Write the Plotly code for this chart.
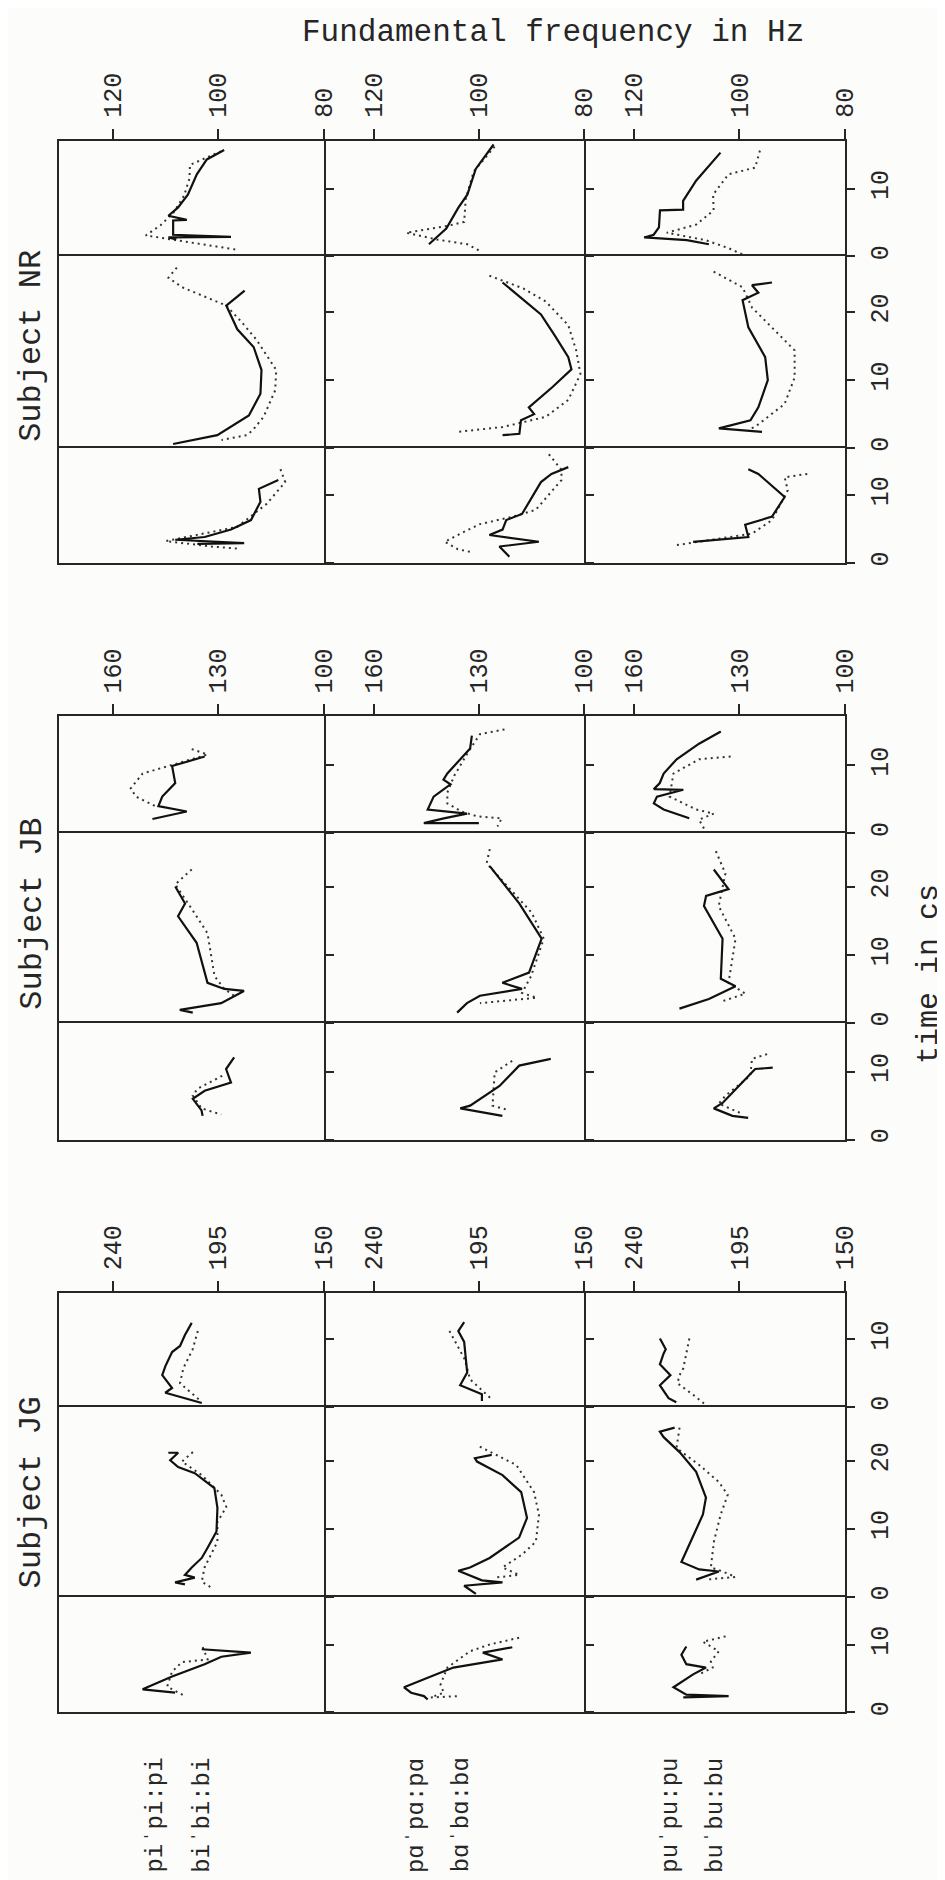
import plotly.graph_objects as go

# ---------------- data: (time in cs, F0 in Hz) ----------------
# p = voiceless context (solid), b = voiced context (dotted); syllable 1..3
NR_pi_3_p = [(15.7,98.9),(14.3,102.2),(12.1,104.1),(9.1,105.8),(7.2,107.7),(6.0,109.5),(5.4,106.0),(5.3,108.6),(3.2,108.6),(2.9,97.6),(2.8,109.5),(2.5,108.0)]
NR_pi_3_b = [(15.5,99.5),(13.5,105.4),(11.5,105.5),(9.0,106.5),(6.5,108.5),(4.6,111.0),(3.1,113.8),(2.2,106.0),(1.6,101.0),(1.0,96.5)]
NR_pi_2_p = [(23.2,95.0),(21.0,98.5),(17.5,96.4),(14.9,93.3),(11.5,91.8),(8.0,92.0),(4.8,94.2),(3.4,97.0),(1.9,100.2),(0.6,108.6)]
NR_pi_2_b = [(26.6,107.9),(25.1,109.5),(23.7,106.9),(21.0,98.5),(18.5,95.5),(15.9,92.7),(11.5,89.0),(8.5,89.2),(4.6,91.4),(2.6,93.5),(1.9,94.6),(1.2,99.4)]
NR_pi_1_p = [(12.2,88.6),(10.9,92.3),(9.0,92.0),(6.3,93.8),(4.9,97.6),(3.8,102.6),(3.4,108.2),(2.9,95.1),(2.8,104.0)]
NR_pi_1_b = [(13.8,88.2),(11.9,87.3),(8.7,90.8),(5.3,96.4),(3.2,110.0),(2.4,101.3),(2.1,96.4)]

NR_pa_3_p = [(16.5,97.2),(12.9,100.6),(9.1,102.2),(7.2,103.9),(4.1,106.2),(2.5,108.5),(1.8,109.5)]
NR_pa_3_b = [(16.2,97.0),(12.5,101.0),(8.5,102.5),(5.1,102.8),(4.5,106.0),(3.5,113.8),(2.5,108.0),(1.8,102.2),(0.9,100.0)]
NR_pa_2_p = [(24.4,95.5),(21.5,91.0),(19.7,88.2),(16.5,85.5),(13.4,83.0),(11.6,82.4),(9.0,86.0),(6.0,90.5),(5.0,89.5),(4.1,92.0),(2.1,92.3),(1.9,95.5)]
NR_pa_2_b = [(25.4,98.0),(23.5,91.5),(21.6,87.3),(18.1,83.0),(14.4,81.5),(10.9,80.7),(7.1,83.0),(4.6,87.3),(3.1,95.5),(2.4,103.9)]
NR_pa_1_p = [(14.1,83.0),(13.1,86.2),(11.9,88.2),(7.2,91.8),(6.3,94.8),(4.9,95.5),(4.1,98.0),(3.1,88.6),(2.4,96.1),(0.9,94.2)]
NR_pa_1_b = [(16.0,86.7),(13.7,84.3),(12.2,84.3),(7.8,89.2),(6.8,93.6),(5.7,99.8),(4.5,103.0),(3.1,106.5),(2.0,104.0),(1.5,101.0)]

NR_pu_3_p = [(15.3,103.6),(11.2,108.2),(8.2,110.7),(6.9,110.7),(6.8,115.1),(4.3,115.3),(3.2,116.3),(2.8,118.1),(2.4,110.0),(1.8,105.8)]
NR_pu_3_b = [(15.6,96.1),(13.1,97.0),(12.1,102.1),(9.1,105.0),(6.8,104.9),(4.7,108.2),(3.5,113.8),(2.4,106.4),(1.2,102.0),(0.3,99.4)]
NR_pu_2_p = [(24.4,93.8),(24.0,97.6),(22.9,96.4),(21.8,99.4),(17.8,98.3),(13.4,95.1),(10.0,94.6),(6.0,96.4),(4.1,97.9),(2.9,103.9),(2.4,95.7)]
NR_pu_2_b = [(26.0,104.9),(24.8,102.0),(23.7,99.4),(20.7,97.6),(14.4,89.5),(10.4,89.5),(6.5,91.4),(3.5,96.4),(2.6,98.3)]
NR_pu_1_p = [(13.8,98.3),(13.1,96.4),(9.7,91.4),(6.8,93.8),(5.6,98.9),(3.8,98.3),(3.1,108.8)]
NR_pu_1_b = [(13.1,87.1),(12.6,91.4),(10.7,90.8),(6.3,93.8),(4.3,97.6),(2.6,112.0)]

JB_pi_3_p = [(11.3,133.9),(9.9,143.2),(7.4,142.3),(5.4,146.0),(4.0,147.1),(3.2,139.0),(2.1,148.8)]
JB_pi_3_b = [(12.4,137.6),(11.6,133.1),(9.9,144.3),(8.8,151.6),(6.6,155.0),(5.4,153.5),(4.0,148.0)]
JB_pi_2_p = [(20.1,142.3),(17.6,139.5),(15.7,141.5),(11.8,136.2),(5.9,133.1),(5.0,128.3),(4.7,122.7),(2.9,129.2),(1.9,141.0),(1.5,137.3)]
JB_pi_2_b = [(22.6,137.6),(20.4,142.3),(16.8,137.6),(13.2,133.1),(6.9,131.1),(5.0,128.3),(3.7,124.7)]
JB_pi_1_p = [(12.1,125.5),(10.4,127.8),(8.4,126.4),(7.2,133.9),(6.0,137.3),(4.3,134.8),(3.5,134.5)]
JB_pi_1_b = [(9.4,128.9),(7.5,135.9),(6.5,137.3),(4.6,134.8),(3.7,129.2)]

JB_pa_3_p = [(14.4,132.0),(12.5,132.5),(8.8,139.0),(7.9,140.1),(7.2,138.1),(5.4,142.9),(3.5,144.6),(2.9,133.4),(2.2,140.0),(1.5,145.7),(1.5,130.0)]
JB_pa_3_b = [(15.3,122.7),(14.6,129.7),(12.0,133.0),(8.5,137.0),(6.0,139.0),(4.4,139.0),(3.2,135.0),(2.5,130.6),(2.2,123.5),(1.0,124.7)]
JB_pa_2_p = [(23.1,126.9),(17.6,118.5),(12.4,112.1),(7.4,115.7),(5.9,123.3),(5.0,117.7),(4.0,129.7),(2.9,133.4),(1.5,136.2)]
JB_pa_2_b = [(25.6,126.9),(23.5,127.8),(16.2,114.9),(12.4,111.5),(6.9,115.1),(4.4,117.7),(3.7,113.5),(3.2,123.3),(2.9,129.7)]
JB_pa_1_p = [(11.9,109.5),(10.9,118.5),(7.9,124.1),(5.0,132.5),(4.6,135.3),(3.5,123.3)]
JB_pa_1_b = [(11.6,120.5),(9.9,125.5),(5.0,126.1),(4.3,121.3)]

JB_pu_3_p = [(15.0,135.3),(13.2,141.5),(10.9,147.9),(8.8,151.6),(7.4,152.7),(6.5,154.4),(6.4,146.0),(5.4,153.5),(4.4,154.4),(3.5,151.6),(2.2,144.3)]
JB_pu_3_b = [(11.3,132.5),(10.9,141.5),(8.8,148.8),(5.4,149.9),(3.5,142.3),(2.9,137.3),(2.0,141.5),(0.7,140.1)]
JB_pu_2_p = [(22.6,137.3),(19.7,133.1),(18.7,139.5),(17.2,140.1),(12.4,134.8),(6.5,135.3),(5.4,131.1),(3.5,138.7),(2.1,147.1)]
JB_pu_2_b = [(25.3,136.7),(22.0,134.0),(17.2,135.9),(12.4,131.1),(5.9,133.1),(4.3,128.3),(3.2,134.8)]
JB_pu_1_p = [(10.6,120.5),(10.4,125.5),(8.4,129.2),(5.4,134.8),(4.6,137.3),(3.5,132.0),(3.2,127.5)]
JB_pu_1_b = [(12.6,122.1),(11.9,126.4),(9.4,126.9),(6.5,133.9),(5.3,135.9),(3.8,129.2)]

JG_pi_3_p = [(12.4,206.4),(10.6,209.3),(9.0,211.4),(8.1,214.8),(6.0,217.7),(4.7,219.0),(2.8,214.8),(2.1,217.7),(1.3,209.3),(0.6,202.1)]
JG_pi_3_b = [(11.2,203.8),(8.5,206.0),(5.7,210.0),(3.5,211.4),(0.9,202.6)]
JG_pi_2_p = [(21.2,216.4),(21.2,212.2),(20.1,215.6),(19.1,212.2),(18.2,205.1),(16.0,196.7),(13.1,195.4),(9.6,195.8),(7.2,199.6),(5.7,202.1),(4.3,206.4),(3.2,209.3),(2.8,205.1),(2.1,213.5),(1.8,209.3)]
JG_pi_2_b = [(21.3,205.9),(19.9,210.6),(17.9,202.1),(15.0,193.7),(13.2,191.6),(11.0,195.4),(8.1,195.4),(4.3,200.9),(2.2,202.1),(1.3,197.9)]
JG_pi_1_p = [(9.3,202.1),(8.8,181.1),(8.2,193.7),(7.1,200.9),(5.3,214.8),(3.4,227.4),(2.9,213.5)]
JG_pi_1_b = [(9.6,201.7),(7.8,199.6),(7.4,210.6),(6.0,214.8),(3.8,216.9),(2.4,209.3)]

JG_pa_3_p = [(12.5,201.3),(11.2,203.8),(9.6,201.3),(5.1,200.0),(3.2,203.0),(2.5,197.5),(1.9,193.7),(0.9,193.7)]
JG_pa_3_b = [(11.2,207.6),(7.0,201.0),(4.1,198.8),(1.3,190.0)]
JG_pa_2_p = [(20.9,189.5),(20.4,196.7),(19.9,195.8),(17.9,184.9),(15.4,176.9),(11.6,174.4),(8.7,177.8),(5.7,190.4),(4.3,198.8),(3.8,203.8),(2.4,193.7),(2.1,184.9),(1.6,201.3),(0.4,196.3)]
JG_pa_2_b = [(22.1,194.6),(19.4,179.0),(15.4,171.4),(12.1,169.3),(8.1,170.6),(6.2,176.5),(4.3,184.9),(3.2,177.8),(2.8,188.3)]
JG_pa_1_p = [(9.6,180.7),(8.8,193.3),(7.8,184.9),(6.6,205.9),(5.1,216.9),(3.7,227.0),(2.9,224.0),(2.4,218.5),(1.9,216.9)]
JG_pa_1_b = [(11.0,177.8),(10.0,190.4),(9.0,198.8),(6.6,208.5),(4.1,211.4),(2.9,210.0),(2.2,215.6),(2.4,203.0)]

JG_pu_3_p = [(10.1,229.0),(8.5,226.5),(7.9,227.4),(6.3,229.0),(4.7,224.5),(3.2,229.0),(1.3,225.3),(0.7,222.0)]
JG_pu_3_b = [(10.1,216.4),(5.7,219.0),(4.7,220.6),(3.5,221.5),(1.6,214.0),(0.2,209.0)]
JG_pu_2_p = [(24.9,222.7),(24.3,229.0),(23.5,227.4),(21.3,220.6),(18.4,213.5),(14.6,209.3),(12.1,210.6),(5.1,219.8),(4.0,212.2),(3.7,203.8),(2.5,213.5)]
JG_pu_2_b = [(24.9,220.6),(21.9,221.9),(19.4,212.2),(16.9,203.8),(15.0,200.0),(12.1,203.0),(8.1,205.9),(4.3,207.2),(3.7,202.1),(2.9,196.7),(2.5,209.3)]
JG_pu_1_p = [(9.7,217.7),(8.5,219.8),(7.1,217.7),(6.6,209.3),(5.6,214.8),(3.7,223.2),(2.6,217.7),(2.4,199.6),(2.2,219.0)]
JG_pu_1_b = [(11.2,200.9),(10.4,210.6),(9.0,203.8),(7.5,207.2),(6.6,206.4),(5.6,212.2)]

SUBJECTS = ['NR', 'JB', 'JG']
VOWELS = ['pi', 'pa', 'pu']
FREQ_TICKS = {'NR': [120, 100, 80], 'JB': [160, 130, 100], 'JG': [240, 195, 150]}
TIME_TICKS = {3: [0, 10], 2: [0, 10, 20], 1: [0, 10]}
LABELS = [("pi\u02c8pi:pi", "bi\u02c8bi:bi"),
          ("p\u0251\u02c8p\u0251:p\u0251", "b\u0251\u02c8b\u0251:b\u0251"),
          ("pu\u02c8pu:pu", "bu\u02c8bu:bu")]

# ---------------- layout geometry (pixels) ----------------
W, H = 945, 1880
COL_X = [52, 321, 586, 851]
BLOCK_Y = {'NR': [133, 249, 441, 556], 'JB': [710, 827, 1017, 1134], 'JG': [1288, 1402, 1592, 1708]}
FREQ_LO = {'NR': 80, 'JB': 100, 'JG': 150}
PX_PER_HZ = {'NR': 5.35, 'JB': 3.567, 'JG': 2.378}
PX_PER_CS = 6.8
SUBJ_Y = {'NR': 339, 'JB': 908, 'JG': 1488}

INK = '#262626'
FONT = 'Liberation Mono, DejaVu Sans Mono, monospace'

g = globals()
fig = go.Figure()
layout = {}
k = 0
for subj in SUBJECTS:
    ys = BLOCK_Y[subj]
    for c, vow in enumerate(VOWELS):
        x0, x1 = COL_X[c], COL_X[c + 1]
        hi = FREQ_LO[subj] + (x1 - x0) / PX_PER_HZ[subj]
        for s_i, syl in enumerate([3, 2, 1]):
            y0, y1 = ys[s_i], ys[s_i + 1]
            k += 1
            xa = 'x' if k == 1 else f'x{k}'
            ya = 'y' if k == 1 else f'y{k}'
            p_pts = g[f'{subj}_{vow}_{syl}_p']
            b_pts = g[f'{subj}_{vow}_{syl}_b']
            fig.add_trace(go.Scatter(
                x=[f for t, f in b_pts], y=[t for t, f in b_pts], mode='lines',
                line=dict(color='#333333', width=2, dash='2px,4px'),
                xaxis=xa, yaxis=ya, hoverinfo='skip'))
            fig.add_trace(go.Scatter(
                x=[f for t, f in p_pts], y=[t for t, f in p_pts], mode='lines',
                line=dict(color='#111111', width=2.2),
                xaxis=xa, yaxis=ya, hoverinfo='skip'))
            top = (s_i == 0)
            layout['xaxis' if k == 1 else f'xaxis{k}'] = dict(
                domain=[x0 / W, x1 / W], range=[hi, FREQ_LO[subj]], anchor=ya,
                showgrid=False, zeroline=False, showline=True, mirror=(s_i == 2),
                linecolor=INK, linewidth=2,
                side='top', ticks='outside' if top else '', ticklen=10, tickwidth=2,
                tickcolor=INK, tickvals=FREQ_TICKS[subj] if top else [],
                showticklabels=top, tickangle=-90, ticklabelstandoff=6,
                tickfont=dict(family=FONT, size=25, color=INK), fixedrange=True)
            layout['yaxis' if k == 1 else f'yaxis{k}'] = dict(
                domain=[1 - y1 / H, 1 - y0 / H], range=[0, (y1 - y0) / PX_PER_CS],
                anchor=xa, showgrid=False, zeroline=False, showline=True, mirror=(c == 0),
                linecolor=INK, linewidth=2, side='right', ticks='outside',
                ticklen=8, tickwidth=2, tickcolor=INK, tickvals=TIME_TICKS[syl],
                showticklabels=(c == 2), tickangle=-90, ticklabelstandoff=3,
                tickfont=dict(family=FONT, size=25, color=INK), fixedrange=True)

annotations = [
    dict(text='Fundamental frequency in Hz', x=554 / W, y=1 - 25 / H, xref='paper', yref='paper',
         showarrow=False, xanchor='center', yanchor='middle',
         font=dict(family=FONT, size=31, color=INK)),
    dict(text='time in cs', x=937 / W, y=1 - 968 / H, xref='paper', yref='paper',
         showarrow=False, textangle=-90, xanchor='center', yanchor='middle',
         font=dict(family=FONT, size=30, color=INK)),
]
for subj in SUBJECTS:
    annotations.append(dict(text=f'Subject {subj}', x=24 / W, y=1 - SUBJ_Y[subj] / H,
                            xref='paper', yref='paper', showarrow=False, textangle=-90,
                            xanchor='center', yanchor='middle',
                            font=dict(family=FONT, size=32, color=INK)))
LABEL_X = [(150, 197), (415, 461), (674, 719)]
for (l1, l2), (xa1, xa2) in zip(LABELS, LABEL_X):
    for txt, xx in ((l1, xa1), (l2, xa2)):
        annotations.append(dict(text=txt, x=xx / W, y=1 - 1811 / H, xref='paper', yref='paper',
                                showarrow=False, textangle=-90, xanchor='center', yanchor='middle',
                                font=dict(family=FONT, size=24, color=INK)))

fig.update_layout(width=W, height=H, margin=dict(l=0, r=0, t=0, b=0),
                  paper_bgcolor='#fcfcfa', plot_bgcolor='#fcfcfa', showlegend=False,
                  annotations=annotations, **layout)
fig.write_html('out.html')
